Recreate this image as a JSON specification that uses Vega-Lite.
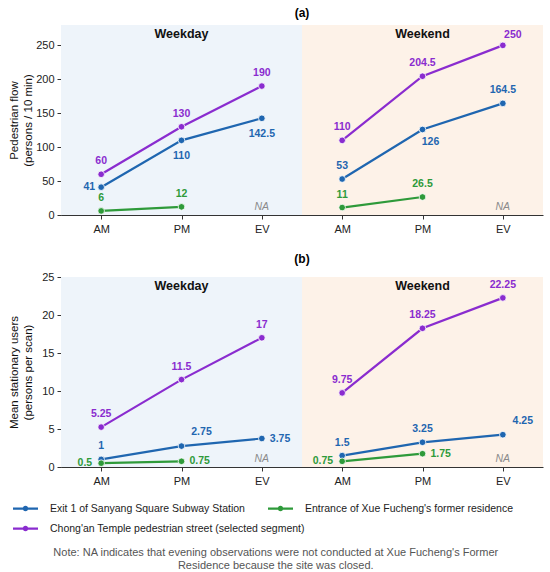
{
  "$schema": "https://vega.github.io/schema/vega-lite/v6.json",
  "padding": {"left": 8, "right": 6, "top": 7, "bottom": 2},
  "autosize": {"type": "pad"},
  "config": {
    "font": "Liberation Sans",
    "view": {"stroke": null},
    "axis": {"domainColor": "#333", "tickColor": "#333", "labelColor": "#222", "labelFontSize": 11, "tickSize": 4, "titleFontWeight": "normal", "titleFontSize": 11.5, "titleLineHeight": 13.5, "titleColor": "#111"},
    "axisY": {"grid": true, "gridDash": [4, 3], "gridColor": "#d0d0d0", "labelPadding": 3, "minExtent": 26, "maxExtent": 26, "titlePadding": 2, "zindex": 1},
    "legend": {"labelFontSize": 10.5, "labelColor": "#222", "labelLimit": 400}
  },
  "title": {
    "text": ["Note: NA indicates that evening observations were not conducted at Xue Fucheng's Former", "Residence because the site was closed."],
    "orient": "bottom", "anchor": "middle", "fontSize": 11, "fontWeight": "normal", "color": "#555", "offset": 13, "lineHeight": 13
  },
  "datasets": {
    "obs": [
      {"panel": "a", "day": "Weekday", "idx": 0, "site": "exit", "series": "Exit 1 of Sanyang Square Subway Station", "value": 41},
      {"panel": "a", "day": "Weekday", "idx": 1, "site": "exit", "series": "Exit 1 of Sanyang Square Subway Station", "value": 110},
      {"panel": "a", "day": "Weekday", "idx": 2, "site": "exit", "series": "Exit 1 of Sanyang Square Subway Station", "value": 142.5},
      {"panel": "a", "day": "Weekend", "idx": 3, "site": "exit", "series": "Exit 1 of Sanyang Square Subway Station", "value": 53},
      {"panel": "a", "day": "Weekend", "idx": 4, "site": "exit", "series": "Exit 1 of Sanyang Square Subway Station", "value": 126},
      {"panel": "a", "day": "Weekend", "idx": 5, "site": "exit", "series": "Exit 1 of Sanyang Square Subway Station", "value": 164.5},
      {"panel": "a", "day": "Weekday", "idx": 0, "site": "entrance", "series": "Entrance of Xue Fucheng's former residence", "value": 6},
      {"panel": "a", "day": "Weekday", "idx": 1, "site": "entrance", "series": "Entrance of Xue Fucheng's former residence", "value": 12},
      {"panel": "a", "day": "Weekend", "idx": 3, "site": "entrance", "series": "Entrance of Xue Fucheng's former residence", "value": 11},
      {"panel": "a", "day": "Weekend", "idx": 4, "site": "entrance", "series": "Entrance of Xue Fucheng's former residence", "value": 26.5},
      {"panel": "a", "day": "Weekday", "idx": 0, "site": "temple", "series": "Chong'an Temple pedestrian street (selected segment)", "value": 60},
      {"panel": "a", "day": "Weekday", "idx": 1, "site": "temple", "series": "Chong'an Temple pedestrian street (selected segment)", "value": 130},
      {"panel": "a", "day": "Weekday", "idx": 2, "site": "temple", "series": "Chong'an Temple pedestrian street (selected segment)", "value": 190},
      {"panel": "a", "day": "Weekend", "idx": 3, "site": "temple", "series": "Chong'an Temple pedestrian street (selected segment)", "value": 110},
      {"panel": "a", "day": "Weekend", "idx": 4, "site": "temple", "series": "Chong'an Temple pedestrian street (selected segment)", "value": 204.5},
      {"panel": "a", "day": "Weekend", "idx": 5, "site": "temple", "series": "Chong'an Temple pedestrian street (selected segment)", "value": 250},
      {"panel": "b", "day": "Weekday", "idx": 0, "site": "exit", "series": "Exit 1 of Sanyang Square Subway Station", "value": 1},
      {"panel": "b", "day": "Weekday", "idx": 1, "site": "exit", "series": "Exit 1 of Sanyang Square Subway Station", "value": 2.75},
      {"panel": "b", "day": "Weekday", "idx": 2, "site": "exit", "series": "Exit 1 of Sanyang Square Subway Station", "value": 3.75},
      {"panel": "b", "day": "Weekend", "idx": 3, "site": "exit", "series": "Exit 1 of Sanyang Square Subway Station", "value": 1.5},
      {"panel": "b", "day": "Weekend", "idx": 4, "site": "exit", "series": "Exit 1 of Sanyang Square Subway Station", "value": 3.25},
      {"panel": "b", "day": "Weekend", "idx": 5, "site": "exit", "series": "Exit 1 of Sanyang Square Subway Station", "value": 4.25},
      {"panel": "b", "day": "Weekday", "idx": 0, "site": "entrance", "series": "Entrance of Xue Fucheng's former residence", "value": 0.5},
      {"panel": "b", "day": "Weekday", "idx": 1, "site": "entrance", "series": "Entrance of Xue Fucheng's former residence", "value": 0.75},
      {"panel": "b", "day": "Weekend", "idx": 3, "site": "entrance", "series": "Entrance of Xue Fucheng's former residence", "value": 0.75},
      {"panel": "b", "day": "Weekend", "idx": 4, "site": "entrance", "series": "Entrance of Xue Fucheng's former residence", "value": 1.75},
      {"panel": "b", "day": "Weekday", "idx": 0, "site": "temple", "series": "Chong'an Temple pedestrian street (selected segment)", "value": 5.25},
      {"panel": "b", "day": "Weekday", "idx": 1, "site": "temple", "series": "Chong'an Temple pedestrian street (selected segment)", "value": 11.5},
      {"panel": "b", "day": "Weekday", "idx": 2, "site": "temple", "series": "Chong'an Temple pedestrian street (selected segment)", "value": 17},
      {"panel": "b", "day": "Weekend", "idx": 3, "site": "temple", "series": "Chong'an Temple pedestrian street (selected segment)", "value": 9.75},
      {"panel": "b", "day": "Weekend", "idx": 4, "site": "temple", "series": "Chong'an Temple pedestrian street (selected segment)", "value": 18.25},
      {"panel": "b", "day": "Weekend", "idx": 5, "site": "temple", "series": "Chong'an Temple pedestrian street (selected segment)", "value": 22.25}
    ],
    "periods": [
      {"day": "Weekday", "start": -0.5, "end": 2.5},
      {"day": "Weekend", "start": 2.5, "end": 5.5}
    ],
    "dayLabels": [
      {"day": "Weekday", "idx": 1},
      {"day": "Weekend", "idx": 4}
    ],
    "closed": [
      {"idx": 2, "label": "NA"},
      {"idx": 5, "label": "NA"}
    ]
  },
  "spacing": 19,
  "vconcat": [
    {
      "title": {"text": "(a)", "fontSize": 12, "fontWeight": "bold", "anchor": "middle", "frame": "group", "offset": 5},
      "width": 482,
      "height": 190,
      "encoding": {
        "y": {"type": "quantitative", "scale": {"domain": [0, 280], "nice": false},
          "axis": {"title": ["Pedestrian flow", "(persons / 10 min)"], "values": [0, 50, 100, 150, 200, 250]}}
      },
      "layer": [
        {
          "data": {"name": "periods"},
          "mark": {"type": "rect"},
          "encoding": {
            "x": {"field": "start", "type": "quantitative", "scale": {"domain": [-0.5, 5.5], "nice": false, "zero": false},
              "axis": {"values": [0, 1, 2, 3, 4, 5], "labelExpr": "['AM','PM','EV','AM','PM','EV'][datum.value]", "title": null, "grid": false, "labelPadding": 4}},
            "x2": {"field": "end"},
            "y": null,
            "fill": {"field": "day", "type": "nominal", "scale": {"domain": ["Weekday", "Weekend"], "range": ["#eef4fa", "#fdf2e8"]}, "legend": null}
          }
        },
        {
          "mark": {"type": "rule", "color": "#999", "strokeDash": [4, 3], "strokeWidth": 1},
          "encoding": {"x": {"datum": 2.5, "type": "quantitative"}, "y": null}
        },
        {
          "data": {"name": "dayLabels"},
          "mark": {"type": "text", "fontWeight": "bold", "fontSize": 12.5, "baseline": "top", "dy": 3, "color": "#111"},
          "encoding": {
            "x": {"field": "idx", "type": "quantitative"},
            "y": {"datum": 280, "type": "quantitative"},
            "text": {"field": "day"}
          }
        },
        {
          "data": {"name": "obs"},
          "transform": [{"filter": "datum.panel == 'a'"}],
          "encoding": {
            "x": {"field": "idx", "type": "quantitative"},
            "y": {"field": "value", "type": "quantitative", "scale": {"domain": [0, 280], "nice": false},
              "axis": {"title": ["Pedestrian flow", "(persons / 10 min)"], "values": [0, 50, 100, 150, 200, 250]}},
            "color": {"field": "series", "type": "nominal",
              "scale": {"domain": ["Exit 1 of Sanyang Square Subway Station", "Chong'an Temple pedestrian street (selected segment)", "Entrance of Xue Fucheng's former residence"], "range": ["#1f66b0", "#8a2ccf", "#2e9a3a"]},
              "legend": {"title": null, "orient": "none", "legendX": -48, "legendY": 471, "columns": 2, "gridAlign": "none", "columnPadding": -37, "rowPadding": 2,
                "symbolType": "M-1,-0.09H1V0.09H-1Z M0.22,0A0.22,0.22 0 1,1 -0.22,0A0.22,0.22 0 1,1 0.22,0Z", "symbolSize": 625, "symbolStrokeWidth": 0, "labelOffset": 12}}
          },
          "layer": [
            {
              "mark": {"type": "line", "strokeWidth": 2.2},
              "encoding": {"detail": {"field": "day"}}
            },
            {
              "mark": {"type": "point", "filled": true, "size": 44, "opacity": 1, "stroke": "white", "strokeWidth": 0.8}
            },
            {
              "transform": [{"filter": "!(datum.site == 'exit' && (datum.idx == 0 || datum.idx == 1 || datum.idx == 2 || datum.idx == 4)) && !(datum.site == 'temple' && datum.idx == 5)"}],
              "mark": {"type": "text", "fontWeight": "bold", "fontSize": 10.5, "baseline": "middle", "dy": -13},
              "encoding": {"text": {"field": "value", "type": "nominal"}}
            },
            {
              "transform": [{"filter": "datum.site == 'exit' && datum.idx == 0"}],
              "mark": {"type": "text", "fontWeight": "bold", "fontSize": 10.5, "baseline": "middle", "align": "right", "dx": -6},
              "encoding": {"text": {"field": "value", "type": "nominal"}}
            },
            {
              "transform": [{"filter": "datum.site == 'exit' && (datum.idx == 1 || datum.idx == 2)"}],
              "mark": {"type": "text", "fontWeight": "bold", "fontSize": 10.5, "baseline": "middle", "dy": 16},
              "encoding": {"text": {"field": "value", "type": "nominal"}}
            },
            {
              "transform": [{"filter": "datum.site == 'exit' && datum.idx == 4"}],
              "mark": {"type": "text", "fontWeight": "bold", "fontSize": 10.5, "baseline": "middle", "dy": 12, "dx": 8},
              "encoding": {"text": {"field": "value", "type": "nominal"}}
            },
            {
              "transform": [{"filter": "datum.site == 'temple' && datum.idx == 5"}],
              "mark": {"type": "text", "fontWeight": "bold", "fontSize": 10.5, "baseline": "middle", "dy": -10, "dx": 10},
              "encoding": {"text": {"field": "value", "type": "nominal"}}
            }
          ]
        },
        {
          "data": {"name": "closed"},
          "mark": {"type": "text", "fontStyle": "italic", "fontSize": 10.5, "color": "#8a8a8a", "baseline": "bottom", "dy": -3},
          "encoding": {
            "x": {"field": "idx", "type": "quantitative"},
            "y": {"datum": 0, "type": "quantitative"},
            "text": {"field": "label"}
          }
        }
      ]
    },
    {
      "title": {"text": "(b)", "fontSize": 12, "fontWeight": "bold", "anchor": "middle", "frame": "group", "offset": 5},
      "width": 482,
      "height": 190,
      "encoding": {
        "y": {"type": "quantitative", "scale": {"domain": [0, 25], "nice": false},
          "axis": {"title": ["Mean stationary users", "(persons per scan)"], "values": [0, 5, 10, 15, 20, 25]}}
      },
      "layer": [
        {
          "data": {"name": "periods"},
          "mark": {"type": "rect"},
          "encoding": {
            "x": {"field": "start", "type": "quantitative", "scale": {"domain": [-0.5, 5.5], "nice": false, "zero": false},
              "axis": {"values": [0, 1, 2, 3, 4, 5], "labelExpr": "['AM','PM','EV','AM','PM','EV'][datum.value]", "title": null, "grid": false, "labelPadding": 4}},
            "x2": {"field": "end"},
            "y": null,
            "fill": {"field": "day", "type": "nominal", "scale": {"domain": ["Weekday", "Weekend"], "range": ["#eef4fa", "#fdf2e8"]}, "legend": null}
          }
        },
        {
          "mark": {"type": "rule", "color": "#999", "strokeDash": [4, 3], "strokeWidth": 1},
          "encoding": {"x": {"datum": 2.5, "type": "quantitative"}, "y": null}
        },
        {
          "data": {"name": "dayLabels"},
          "mark": {"type": "text", "fontWeight": "bold", "fontSize": 12.5, "baseline": "top", "dy": 3, "color": "#111"},
          "encoding": {
            "x": {"field": "idx", "type": "quantitative"},
            "y": {"datum": 25, "type": "quantitative"},
            "text": {"field": "day"}
          }
        },
        {
          "data": {"name": "obs"},
          "transform": [{"filter": "datum.panel == 'b'"}],
          "encoding": {
            "x": {"field": "idx", "type": "quantitative"},
            "y": {"field": "value", "type": "quantitative", "scale": {"domain": [0, 25], "nice": false},
              "axis": {"title": ["Mean stationary users", "(persons per scan)"], "values": [0, 5, 10, 15, 20, 25]}},
            "color": {"field": "series", "type": "nominal"}
          },
          "layer": [
            {
              "mark": {"type": "line", "strokeWidth": 2.2},
              "encoding": {"detail": {"field": "day"}}
            },
            {
              "mark": {"type": "point", "filled": true, "size": 44, "opacity": 1, "stroke": "white", "strokeWidth": 0.8}
            },
            {
              "transform": [{"filter": "!(datum.site == 'entrance' && (datum.idx == 0 || datum.idx == 1 || datum.idx == 3 || datum.idx == 4)) && !(datum.site == 'exit' && (datum.idx == 1 || datum.idx == 2 || datum.idx == 5))"}],
              "mark": {"type": "text", "fontWeight": "bold", "fontSize": 10.5, "baseline": "middle", "dy": -13},
              "encoding": {"text": {"field": "value", "type": "nominal"}}
            },
            {
              "transform": [{"filter": "datum.site == 'entrance' && (datum.idx == 0 || datum.idx == 3)"}],
              "mark": {"type": "text", "fontWeight": "bold", "fontSize": 10.5, "baseline": "middle", "align": "right", "dx": -9},
              "encoding": {"text": {"field": "value", "type": "nominal"}}
            },
            {
              "transform": [{"filter": "(datum.site == 'entrance' && (datum.idx == 1 || datum.idx == 4)) || (datum.site == 'exit' && datum.idx == 2)"}],
              "mark": {"type": "text", "fontWeight": "bold", "fontSize": 10.5, "baseline": "middle", "align": "left", "dx": 8},
              "encoding": {"text": {"field": "value", "type": "nominal"}}
            },
            {
              "transform": [{"filter": "datum.site == 'exit' && (datum.idx == 1 || datum.idx == 5)"}],
              "mark": {"type": "text", "fontWeight": "bold", "fontSize": 10.5, "baseline": "middle", "dy": -14, "dx": 20},
              "encoding": {"text": {"field": "value", "type": "nominal"}}
            }
          ]
        },
        {
          "data": {"name": "closed"},
          "mark": {"type": "text", "fontStyle": "italic", "fontSize": 10.5, "color": "#8a8a8a", "baseline": "bottom", "dy": -3},
          "encoding": {
            "x": {"field": "idx", "type": "quantitative"},
            "y": {"datum": 0, "type": "quantitative"},
            "text": {"field": "label"}
          }
        }
      ]
    }
  ]
}
